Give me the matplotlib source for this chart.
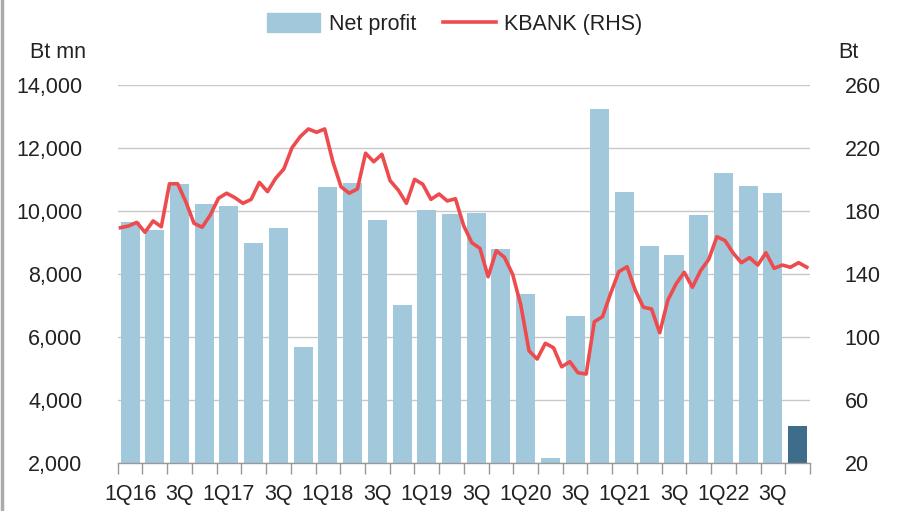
import matplotlib.pyplot as plt
import matplotlib.lines as mlines
import numpy as np

plt.rcParams['font.family'] = ['Liberation Sans', 'DejaVu Sans']

quarters = ['1Q16', '2Q16', '3Q16', '4Q16', '1Q17', '2Q17', '3Q17', '4Q17',
            '1Q18', '2Q18', '3Q18', '4Q18', '1Q19', '2Q19', '3Q19', '4Q19',
            '1Q20', '2Q20', '3Q20', '4Q20', '1Q21', '2Q21', '3Q21', '4Q21',
            '1Q22', '2Q22', '3Q22', '4Q22']
tick_labels = ['1Q16', '3Q', '1Q17', '3Q', '1Q18', '3Q', '1Q19', '3Q',
               '1Q20', '3Q', '1Q21', '3Q', '1Q22', '3Q']

net_profit = [9650, 9420, 10860, 10240, 10170, 8985, 9470, 5700,
              10760, 10910, 9735, 7030, 10040, 9925, 9950, 8800,
              7376, 2170, 6680, 13260, 10615, 8890, 8615, 9895,
              11210, 10795, 10575, 3185]

# monthly share price, Bt
kbank = [169.6, 170.7, 173.0, 166.7, 173.9, 170.2, 197.5, 197.5, 186.1, 172.4,
         169.9, 177.7, 188.3, 191.5, 188.7, 185.1, 187.6, 198.4, 192.5, 201.0,
         206.9, 220.4, 227.4, 232.3, 230.2, 232.3, 211.5, 195.6, 191.5, 194.2,
         216.9, 211.5, 216.2, 199.5, 193.5, 185.1, 200.3, 197.2, 187.6, 191.0,
         186.6, 188.0, 171.0, 160.1, 156.5, 138.5, 155.0, 150.8, 140.0, 120.5,
         91.5, 86.2, 96.2, 93.4, 81.3, 84.5, 77.5, 76.7, 109.9, 113.1,
         128.0, 141.7, 144.8, 130.0, 119.1, 118.0, 102.9, 123.7, 133.9, 141.3,
         131.8, 142.3, 149.5, 163.9, 161.4, 153.4, 147.4, 150.6, 145.9, 153.7,
         143.8, 145.9, 144.5, 147.4, 144.5]

bar_col = '#a2c8dc'
last_col = '#3e6c8b'
line_col = '#ee4b4e'
grid_col = '#c8c8c8'
txt_col = '#222222'
fs = 15.5

fig = plt.figure(figsize=(9, 5.11), dpi=100)
ax = fig.add_axes([0.1308, 0.0933, 0.9 - 0.1308, 0.833 - 0.0933])

x = np.arange(len(quarters))
colors = [bar_col] * (len(quarters) - 1) + [last_col]
ax.bar(x, net_profit, width=0.77, color=colors, bottom=0, zorder=2)
ax.set_ylim(2000, 14000)
ax.set_xlim(-0.5, len(quarters) - 0.5)
ax.set_yticks(np.arange(2000, 14001, 2000))
ax.set_yticklabels([f'{v:,}' for v in range(2000, 14001, 2000)])
ax.yaxis.grid(True, color=grid_col, lw=1.0, zorder=0)
ax.set_axisbelow(True)

ax.set_xticks(x[::2])
ax.set_xticklabels(tick_labels)
ax.set_xticks(np.arange(-0.5, len(quarters)), minor=True)
ax.tick_params(axis='x', which='major', length=0, pad=15, labelsize=fs, colors=txt_col)
ax.tick_params(axis='x', which='minor', length=8, width=1.0, color='#999999', direction='out')
ax.tick_params(axis='y', length=0, pad=25.5, labelsize=fs, colors=txt_col)
for s in ['top', 'right', 'left']:
    ax.spines[s].set_visible(False)
ax.spines['bottom'].set_color('#999999')
ax.spines['bottom'].set_linewidth(1.0)

ax2 = ax.twinx()
xl = np.linspace(-0.39, len(quarters) - 0.63, len(kbank))
ax2.plot(xl, kbank, color=line_col, lw=2.6, solid_joinstyle='round', zorder=3)
ax2.set_ylim(20, 260)
ax2.set_yticks(np.arange(20, 261, 40))
ax2.tick_params(axis='y', length=0, pad=25, labelsize=fs, colors=txt_col)
for s in ax2.spines.values():
    s.set_visible(False)

fig.text(0.033, 0.898, 'Bt mn', fontsize=fs, color=txt_col, ha='left', va='center')
fig.text(0.931, 0.898, 'Bt', fontsize=fs, color=txt_col, ha='left', va='center')

handles = [plt.Rectangle((0, 0), 1, 1, color=bar_col),
           mlines.Line2D([], [], color=line_col, lw=2.6)]
fig.legend(handles, ['Net profit', 'KBANK (RHS)'], loc='center',
           bbox_to_anchor=(0.5056, 0.953), ncol=2, frameon=False, fontsize=fs,
           handlelength=2.45, handleheight=1.0, handletextpad=0.4, columnspacing=1.25,
           labelcolor=txt_col)

# left border line
fig.add_artist(mlines.Line2D([0.0025, 0.0025], [0.0, 1.0], color='#aaaaaa', lw=2.5,
                             transform=fig.transFigure))

plt.savefig('out.png', dpi=100)
